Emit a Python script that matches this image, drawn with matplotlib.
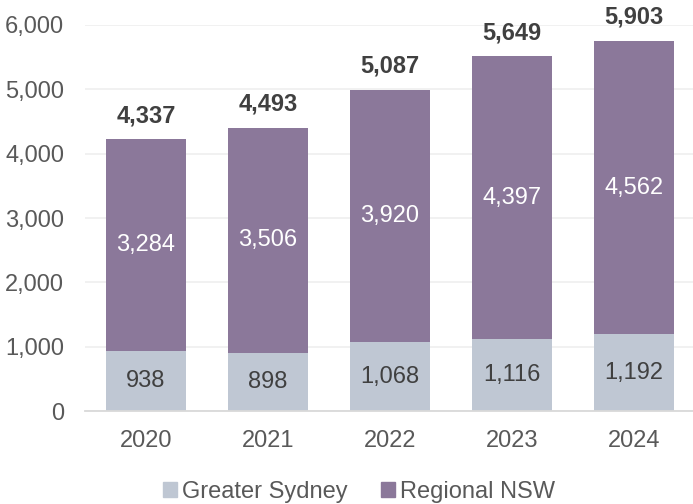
import matplotlib.pyplot as plt
import numpy as np
from matplotlib.patches import Patch
from matplotlib.ticker import FuncFormatter

plt.rcParams['font.family'] = ['Liberation Sans', 'DejaVu Sans']

years = ['2020', '2021', '2022', '2023', '2024']
greater_sydney = [938, 898, 1068, 1116, 1192]
regional_nsw = [3284, 3506, 3920, 4397, 4562]
totals = [4337, 4493, 5087, 5649, 5903]

c_sydney = '#BFC7D3'
c_regional = '#8B789A'
txt_dark = '#404040'
txt_tick = '#595959'

fig = plt.figure(figsize=(6.93, 5.04), dpi=100)
ax = fig.add_axes([85 / 693, 93 / 504, 610 / 693, 386 / 504])

x = np.arange(len(years))
w = 0.66
ax.bar(x, greater_sydney, w, color=c_sydney, zorder=2)
ax.bar(x, regional_nsw, w, bottom=greater_sydney, color=c_regional, zorder=2)

for i in range(len(years)):
    gs = greater_sydney[i]
    rn = regional_nsw[i]
    ax.text(x[i], gs / 2, f'{gs:,}', ha='center', va='center', fontsize=17, color=txt_dark, zorder=3)
    ax.text(x[i], gs + rn / 2, f'{rn:,}', ha='center', va='center', fontsize=17, color='white', zorder=3)
    ax.annotate(f'{totals[i]:,}', (x[i], gs + rn), xytext=(0, 17), textcoords='offset points',
                ha='center', va='center', fontsize=17, fontweight='bold', color=txt_dark,
                annotation_clip=False)

ax.set_xlim(-0.5, len(years) - 0.5)
ax.set_ylim(0, 6000)
ax.set_yticks(range(0, 6001, 1000))
ax.yaxis.set_major_formatter(FuncFormatter(lambda v, p: f'{int(v):,}'))
ax.set_xticks(x)
ax.set_xticklabels(years)
ax.tick_params(axis='both', length=0, labelsize=17, labelcolor=txt_tick)
ax.tick_params(axis='y', pad=15)
ax.tick_params(axis='x', pad=14)
ax.grid(axis='y', color='#F0F0F0', linewidth=1.3, zorder=0)
for s in ['top', 'right', 'left']:
    ax.spines[s].set_visible(False)
ax.spines['bottom'].set_color('#D9D9D9')
ax.spines['bottom'].set_linewidth(1.3)

handles = [Patch(color=c_sydney, label='Greater Sydney'), Patch(color=c_regional, label='Regional NSW')]
leg = fig.legend(handles=handles, loc='center', bbox_to_anchor=(359 / 693, 12 / 504), ncol=2,
                 frameon=False, fontsize=17, handlelength=0.6, handleheight=0.6,
                 handletextpad=0.2, columnspacing=1.4)
for t in leg.get_texts():
    t.set_color(txt_tick)

fig.savefig('out.png', dpi=100)
